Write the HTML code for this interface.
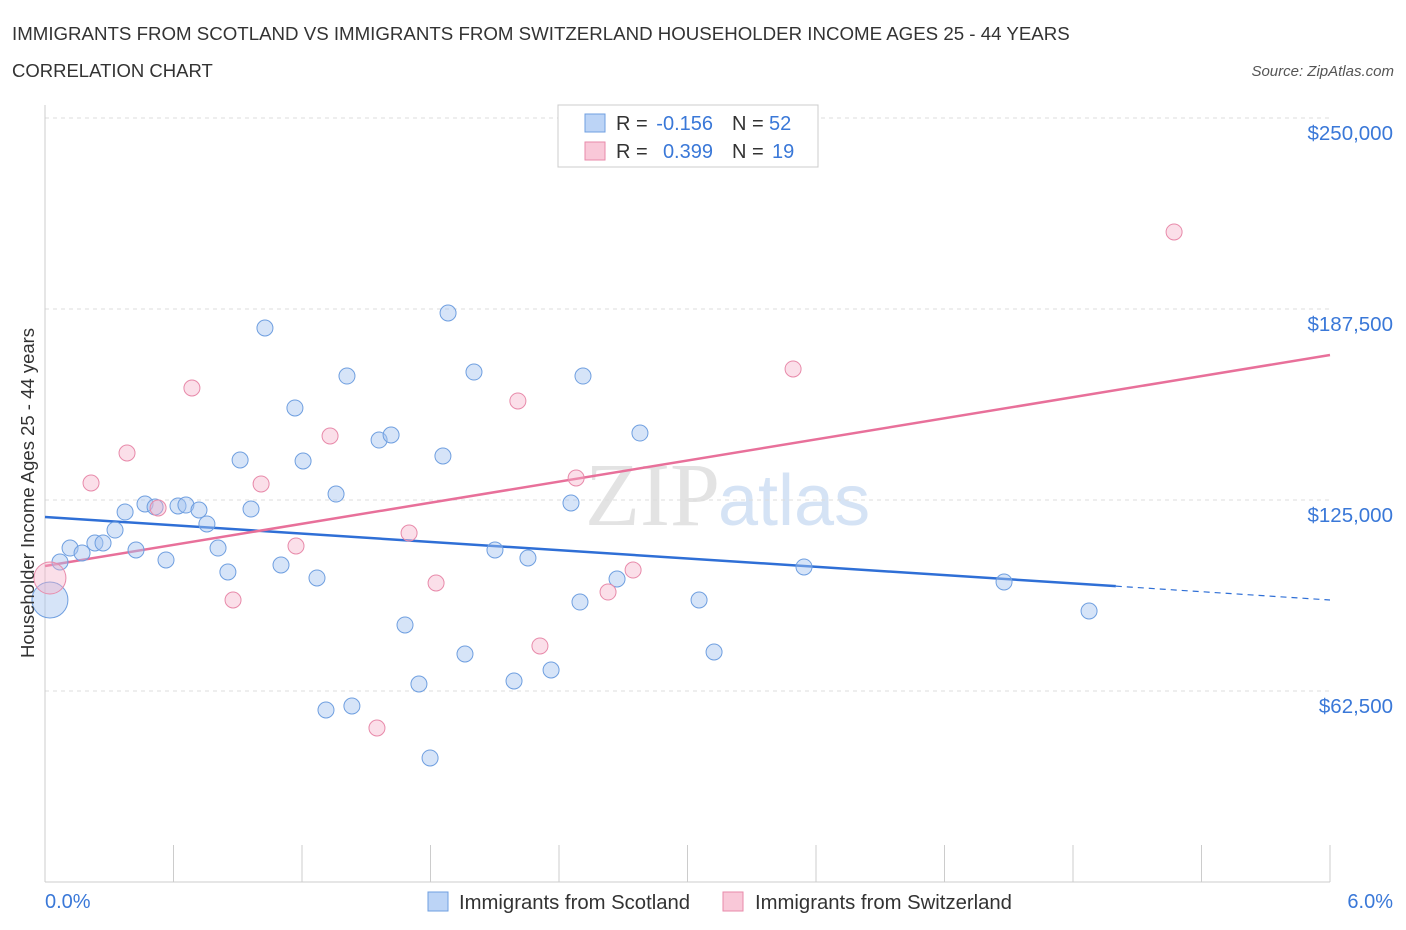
<!DOCTYPE html>
<html><head><meta charset="utf-8"><style>
body{margin:0;background:#fff;font-family:"Liberation Sans",sans-serif;}
svg{display:block}
</style></head><body>
<svg id="chart" width="1406" height="930" xmlns="http://www.w3.org/2000/svg">
<text x="12" y="40" font-size="18.7" fill="#333">IMMIGRANTS FROM SCOTLAND VS IMMIGRANTS FROM SWITZERLAND HOUSEHOLDER INCOME AGES 25 - 44 YEARS</text>
<text x="12" y="77" font-size="18.5" fill="#333">CORRELATION CHART</text>
<text x="1394" y="76" font-size="15" font-style="italic" fill="#555" text-anchor="end">Source: ZipAtlas.com</text>
<text x="720" y="525" font-size="90" font-family="Liberation Serif,serif" fill="#e3e3e3" text-anchor="end">ZIP</text>
<text x="718" y="525" font-size="72" fill="#d5e3f5">atlas</text>
<g id="grid"></g><g id="axes"></g><g id="lines"></g><g id="pts"></g>
<text x="34" y="493" font-size="18.5" fill="#333" text-anchor="middle" transform="rotate(-90 34 493)">Householder Income Ages 25 - 44 years</text>
<text x="45" y="908" font-size="20" fill="#3a78d8">0.0%</text>
<text x="1393" y="908" font-size="20" fill="#3a78d8" text-anchor="end">6.0%</text>
<g>
<rect x="558" y="105" width="260" height="62" fill="#fff" stroke="#ccc"/>
<rect x="585" y="114" width="20" height="18" fill="#bcd4f6" stroke="#6f9fe0"/>
<rect x="585" y="142" width="20" height="18" fill="#f9c8d8" stroke="#e88aaa"/>
<text x="616" y="130" font-size="20" fill="#333">R =</text>
<text x="713" y="130" font-size="20" fill="#3a78d8" text-anchor="end">-0.156</text>
<text x="732" y="130" font-size="20" fill="#333">N =</text>
<text x="769" y="130" font-size="20" fill="#3a78d8">52</text>
<text x="616" y="158" font-size="20" fill="#333">R =</text>
<text x="713" y="158" font-size="20" fill="#3a78d8" text-anchor="end">0.399</text>
<text x="732" y="158" font-size="20" fill="#333">N =</text>
<text x="772" y="158" font-size="20" fill="#3a78d8">19</text>
</g>
<g>
<rect x="428" y="892" width="20" height="19" fill="#bcd4f6" stroke="#6f9fe0"/>
<text x="459" y="909" font-size="20.3" fill="#333">Immigrants from Scotland</text>
<rect x="723" y="892" width="20" height="19" fill="#f9c8d8" stroke="#e88aaa"/>
<text x="755" y="909" font-size="20.3" fill="#333">Immigrants from Switzerland</text>
</g>
</svg>
<script>
const yTicks=[62500,125000,187500,250000];
const yTickLabels=["$62,500","$125,000","$187,500","$250,000"];
const scotX=[0.023,0.07,0.117,0.173,0.233,0.271,0.327,0.374,0.425,0.467,0.514,0.565,0.621,0.658,0.719,0.756,0.808,0.854,0.911,0.962,1.027,1.102,1.167,1.205,1.270,1.312,1.359,1.410,1.433,1.560,1.616,1.681,1.746,1.798,1.858,1.882,1.961,2.003,2.101,2.190,2.255,2.363,2.456,2.498,2.512,2.671,2.778,3.054,3.124,3.544,4.478,4.875];
const scotY=[92280,104710,109290,107660,110930,110930,115180,121070,108640,123690,122710,105370,123040,123360,121730,117150,109290,101440,138090,122050,181280,103730,155110,137760,99480,56280,126960,165570,57590,144630,146270,84100,64790,40580,139400,186190,74610,166880,108640,65770,106020,69370,124020,91620,165570,99150,146920,92280,75260,103080,98170,88680];
const swisX=[0.023,0.215,0.383,0.528,0.686,0.878,1.009,1.172,1.331,1.550,1.700,1.826,2.208,2.311,2.480,2.629,2.746,3.493,5.272];
const swisY=[99480,130560,140380,122380,161650,92280,130240,109950,145940,50390,114200,97840,157400,77230,132200,94890,102090,167870,212700];
const scotTrend=[119440,92280];
const swisTrend=[103400,172450];
const NS="http://www.w3.org/2000/svg";
const xs=v=>45+v/6*1285, ys=v=>882-v/250000*764;
function mk(t,a,p){const e=document.createElementNS(NS,t);for(const k in a)e.setAttribute(k,a[k]);document.getElementById(p).appendChild(e);return e;}
yTicks.forEach((t,i)=>{
 const g=mk('line',{x1:45,x2:1330,y1:ys(t),y2:ys(t),stroke:'#ddd','stroke-dasharray':'4,4'},'grid');
 
 
 const l=mk('text',{x:1393,y:ys(t)+22,'font-size':20.5,fill:'#3a78d8','text-anchor':'end'},'axes');
 l.textContent=yTickLabels[i];
 
 
});
const ya=mk('line',{x1:45,x2:45,y1:105,y2:882,stroke:'#ccc'},'axes');


const xa=mk('line',{x1:45,x2:1330,y1:882,y2:882,stroke:'#ccc'},'axes');


for(let i=0;i<=10;i++){const t=mk('line',{x1:xs(i*0.6),x2:xs(i*0.6),y1:845,y2:882,stroke:'#ccc'},'axes');
 
 }
const bx=5.0;
const b1=mk('line',{x1:xs(0),y1:ys(scotTrend[0]),x2:xs(bx),y2:ys(scotTrend[0]+(scotTrend[1]-scotTrend[0])*bx/6),stroke:'#2f6fd6','stroke-width':2.5},'lines');


const b2=mk('line',{x1:xs(bx),y1:ys(scotTrend[0]+(scotTrend[1]-scotTrend[0])*bx/6),x2:xs(6),y2:ys(scotTrend[1]),stroke:'#2f6fd6','stroke-width':1.2,'stroke-dasharray':'6,5'},'lines');


const p1=mk('line',{x1:xs(0),y1:ys(swisTrend[0]),x2:xs(6),y2:ys(swisTrend[1]),stroke:'#e8709a','stroke-width':2.5},'lines');


scotX.forEach((x,i)=>{const c=mk('circle',{cx:xs(x),cy:ys(scotY[i]),r:i==0?18:8,fill:'rgba(164,196,240,0.45)',stroke:'#6f9fe0','stroke-width':1},'pts');
 
 });
swisX.forEach((x,i)=>{const c=mk('circle',{cx:xs(x),cy:ys(swisY[i]),r:i==0?16:8,fill:'rgba(246,176,200,0.4)',stroke:'#e88aaa','stroke-width':1},'pts');
 
 });
</script>
</body></html>
